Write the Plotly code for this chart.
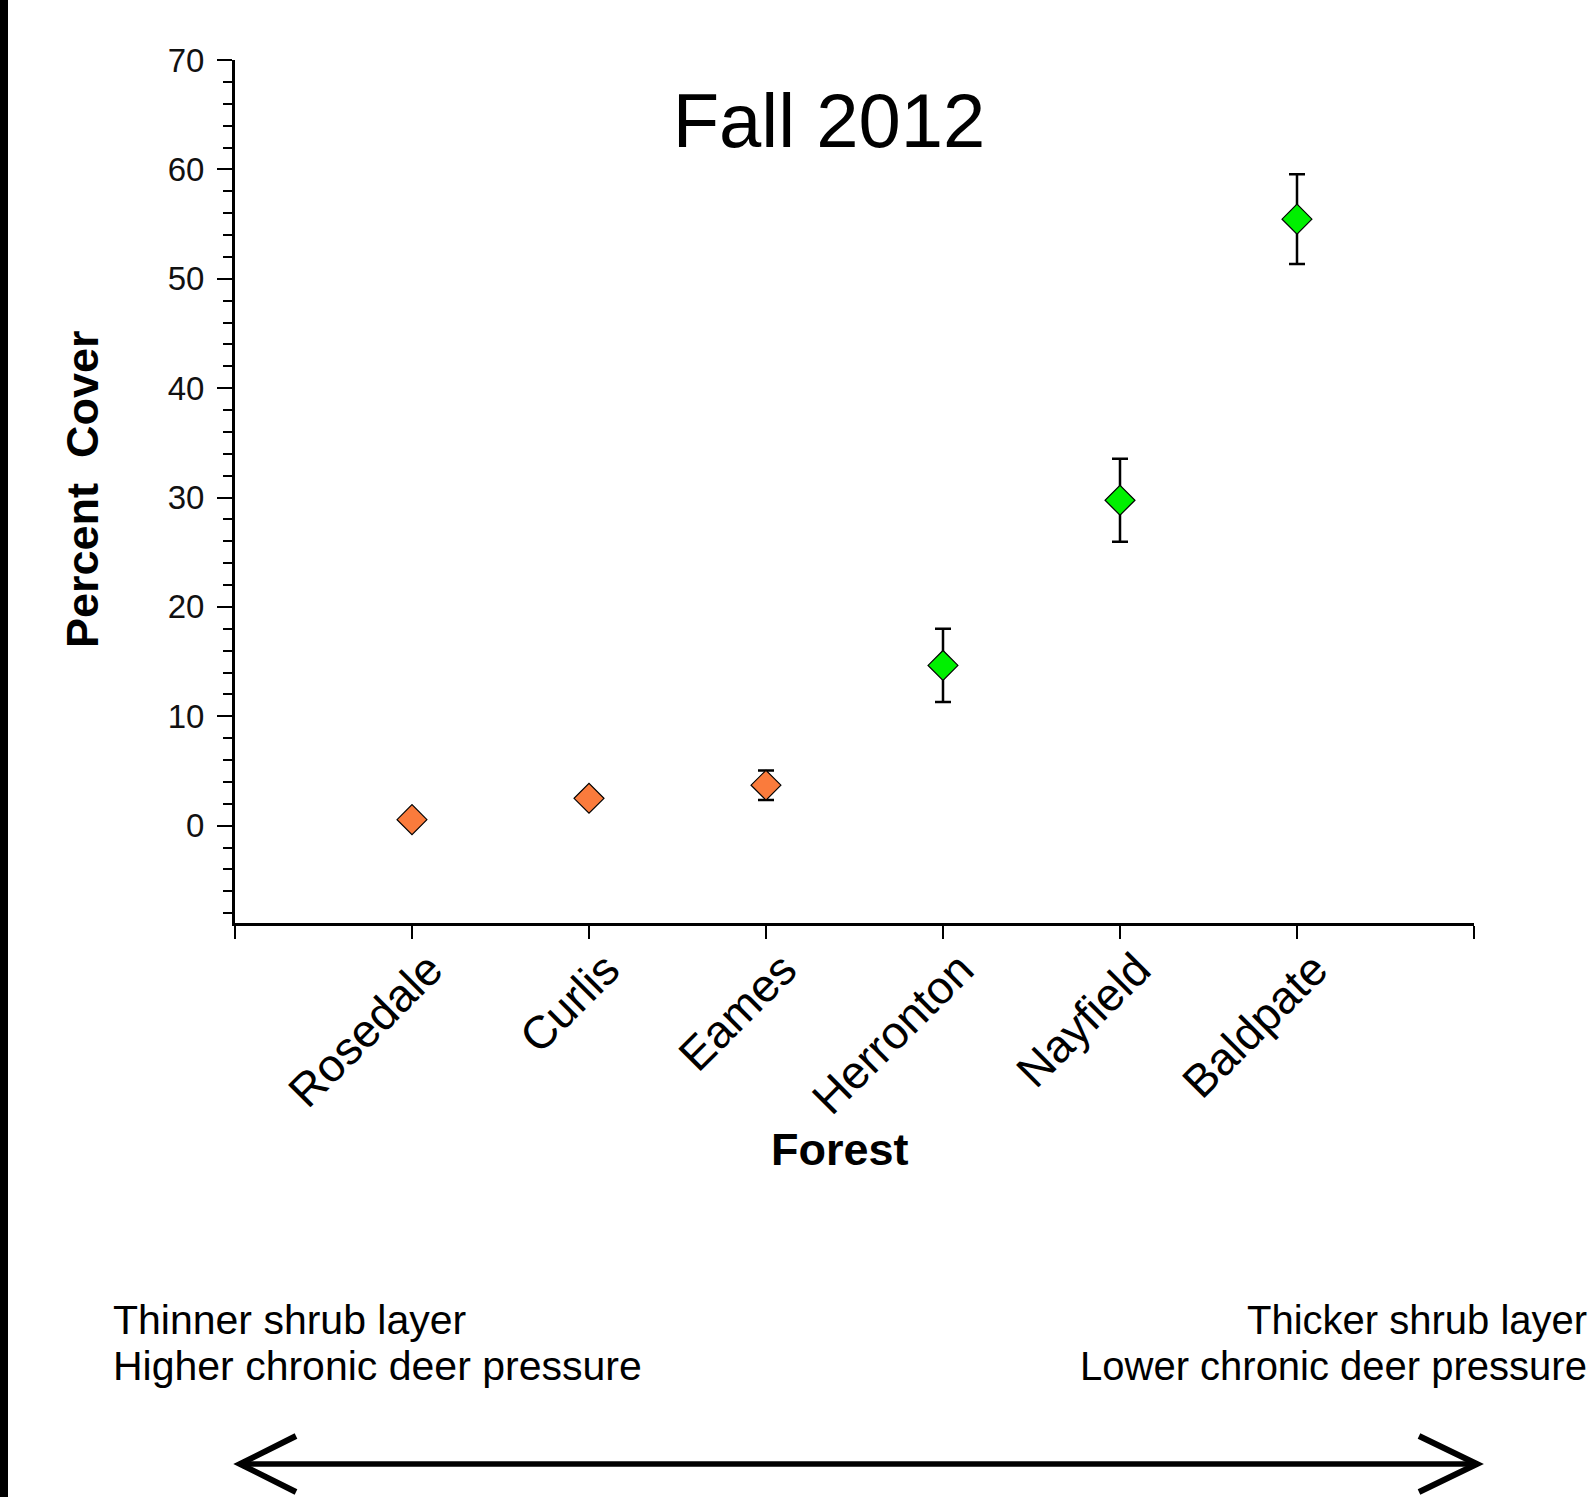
import plotly.graph_objects as go

# ---- data ----
forests = ["Rosedale", "Curlis", "Eames", "Herronton", "Nayfield", "Baldpate"]
cover = [0.55, 2.5, 3.7, 14.65, 29.75, 55.45]
cover_err = [0.4, 0.5, 1.35, 3.35, 3.8, 4.1]
group = ["low", "low", "low", "high", "high", "high"]
y_ticks = [0, 10, 20, 30, 40, 50, 60, 70]

colors = {"low": "#FA7B3C", "high": "#00F000"}

W, H = 1591, 1497
ML, MR, MT, MB = 235, 117, 60, 574
PW = W - ML - MR
PH = H - MT - MB
FONT = "Liberation Sans, Arial, sans-serif"


def px(x):
    return (x - ML) / PW


def py(y):
    return (H - MB - y) / PH


fig = go.Figure()
fig.add_trace(go.Scatter(
    x=list(range(len(forests))),
    y=cover,
    mode="markers",
    marker=dict(symbol="diamond", size=23, color=[colors[g] for g in group],
                line=dict(color="black", width=1.2)),
    error_y=dict(type="data", array=cover_err, visible=True, color="black",
                 thickness=2.5, width=8),
    showlegend=False,
))

fig.update_layout(
    width=W, height=H,
    margin=dict(l=ML, r=MR, t=MT, b=MB, autoexpand=False),
    paper_bgcolor="white", plot_bgcolor="white",
    font=dict(family=FONT, color="black"),
    title=dict(text="Fall 2012", x=829 / W, xanchor="center", xref="container",
               y=1 - 120 / H, yanchor="middle", yref="container",
               font=dict(size=76, family=FONT, color="black")),
)

fig.update_xaxes(
    range=[-1, 6], tickmode="array",
    tickvals=[-1] + list(range(len(forests))) + [6],
    ticktext=[""] + forests + [""],
    tickangle=-45, ticks="outside", ticklen=13, tickwidth=2, tickcolor="black",
    showline=True, linewidth=3, linecolor="black", showgrid=False, zeroline=False,
    tickfont=dict(size=46, family=FONT, color="black"),
    ticklabelstandoff=-15, ticklabelshift=17,
)
fig.update_yaxes(
    range=[-8.9, 70], tickmode="array", tickvals=y_ticks,
    ticktext=[str(v) for v in y_ticks],
    ticks="outside", ticklen=15, tickwidth=2, tickcolor="black",
    minor=dict(dtick=2, tick0=0, ticks="outside", ticklen=9, tickwidth=2, tickcolor="black", showgrid=False),
    showline=True, linewidth=3, linecolor="black", showgrid=False, zeroline=False,
    tickfont=dict(size=33, family=FONT, color="#111"),
    ticklabelstandoff=6,
)

annotations = [
    dict(text="Percent \u00a0Cover", x=px(83), y=py(489), textangle=-90,
         font=dict(size=45, family=FONT, weight="bold")),
    dict(text="Forest", x=px(840), y=py(1149),
         font=dict(size=45, family=FONT, weight="bold")),
    dict(text="Thinner shrub layer", x=px(111), y=py(1320), xanchor="left",
         font=dict(size=41, family=FONT)),
    dict(text="Higher chronic deer pressure", x=px(111), y=py(1366), xanchor="left",
         font=dict(size=41, family=FONT)),
    dict(text="Thicker shrub layer", x=px(1589), y=py(1320), xanchor="right",
         font=dict(size=40, family=FONT)),
    dict(text="Lower chronic deer pressure", x=px(1589), y=py(1366), xanchor="right",
         font=dict(size=40, family=FONT)),
]
for a in annotations:
    a.setdefault("xanchor", "center")
    a.update(xref="paper", yref="paper", yanchor="middle", showarrow=False)
    a["font"].setdefault("color", "black")
fig.update_layout(annotations=annotations)

shapes = [
    dict(type="rect", x0=px(0), x1=px(8), y0=py(H), y1=py(0),
         fillcolor="black", line=dict(width=0)),
    dict(type="line", x0=px(241), x1=px(1474), y0=py(1464), y1=py(1464),
         line=dict(color="black", width=5.5)),
    dict(type="path",
         path=f"M {px(296)} {py(1436)} L {px(240)} {py(1464)} L {px(296)} {py(1492)}",
         line=dict(color="black", width=6)),
    dict(type="path",
         path=f"M {px(1419)} {py(1436)} L {px(1477)} {py(1464)} L {px(1419)} {py(1492)}",
         line=dict(color="black", width=6)),
]
for s in shapes:
    s.update(xref="paper", yref="paper")
fig.update_layout(shapes=shapes)

fig.write_html("out.html", config={"displayModeBar": False},
               post_script="document.body.style.margin='0';document.body.style.overflow='hidden';")
